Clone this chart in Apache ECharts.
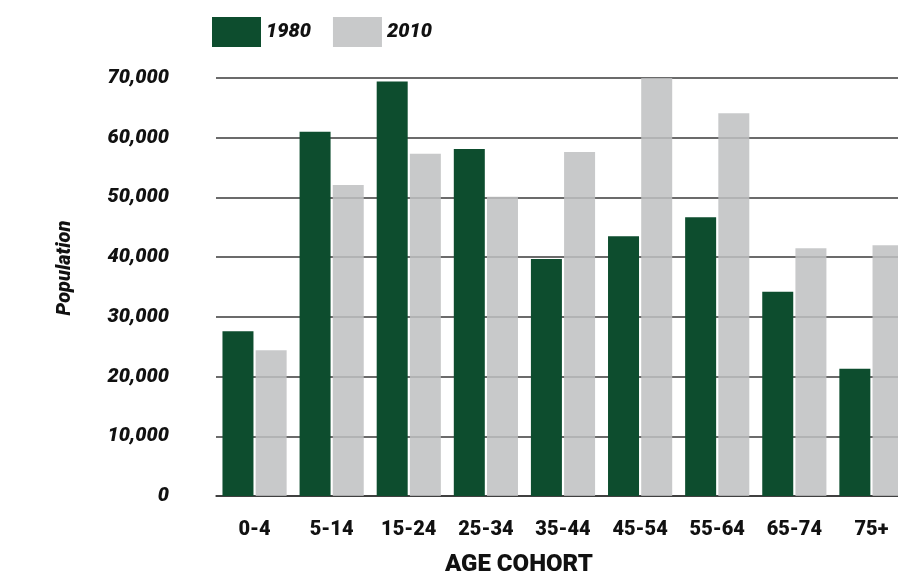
<!DOCTYPE html>
<html>
<head>
<meta charset="utf-8">
<script src="https://cdn.jsdelivr.net/npm/echarts@6/dist/echarts.min.js"></script>
<style>html,body{margin:0;padding:0;background:#fff}#c{width:898px;height:575px}</style>
</head>
<body>
<div id="c"></div>
<script>
const categories = ['0-4','5-14','15-24','25-34','35-44','45-54','55-64','65-74','75+'];
const pop1980 = [27600, 61000, 69400, 58100, 39700, 43500, 46700, 34200, 21300];
const pop2010 = [24400, 52100, 57300, 50100, 57600, 70200, 64100, 41500, 42000];
const yTicks = { min: 0, max: 70000, interval: 10000 };

const chart = echarts.init(document.getElementById('c'));
const FONT = 'Roboto';
chart.setOption({
  animation: false,
  backgroundColor: '#fff',
  legend: {
    left: 207, top: 12,
    itemWidth: 49, itemHeight: 30, itemGap: 22,
    icon: 'rect',
    textStyle: { fontFamily: FONT, fontWeight: 900, fontStyle: 'italic', fontSize: 20, color: '#111' },
    data: ['1980','2010']
  },
  grid: { left: 216, width: 694, top: 78, bottom: 79, containLabel: false, outerBoundsMode: 'none' },
  xAxis: {
    type: 'category', data: categories,
    axisLine: { lineStyle: { color: '#333', width: 1.5 } },
    axisTick: { show: false },
    axisLabel: { margin: 24, fontFamily: FONT, fontWeight: 900, fontSize: 20, color: '#111' }
  },
  yAxis: {
    type: 'value', min: yTicks.min, max: yTicks.max, interval: yTicks.interval,
    axisLine: { show: false }, axisTick: { show: false },
    splitLine: { lineStyle: { color: '#3a3a3a', width: 1.5 } },
    axisLabel: {
      margin: 47, padding: [6, 0, 0, 0], fontFamily: FONT, fontWeight: 900, fontStyle: 'italic', fontSize: 20, color: '#111',
      formatter: v => v.toLocaleString('en-US')
    }
  },
  graphic: [
    { type: 'text', left: 445, top: 553, style: { text: 'AGE COHORT', font: '900 24px Roboto', fill: '#111' } },
    { type: 'text', x: 55, y: 268, rotation: Math.PI / 2, style: { text: 'Population', font: 'italic 900 20px Roboto', fill: '#111', align: 'center', verticalAlign: 'top' } }
  ],
  series: [
    { name: '1980', type: 'bar', data: pop1980, barWidth: 31, barGap: '7%', itemStyle: { color: '#0d4d2e' } },
    { name: '2010', type: 'bar', data: pop2010, barWidth: 31, itemStyle: { color: 'rgb(190,191,193)', opacity: 0.85 } }
  ]
});
</script>
</body>
</html>
